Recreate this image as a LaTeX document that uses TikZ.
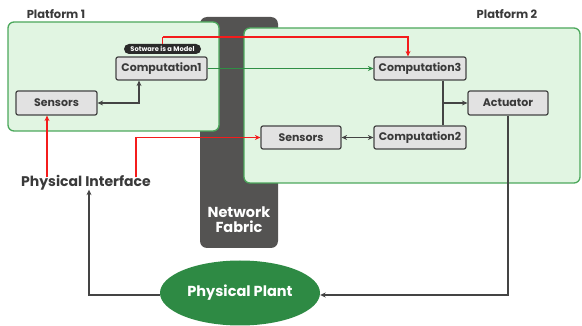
\documentclass[tikz,border=0pt]{standalone}
\usepackage{fontspec}
\setmainfont{Poppins}
\usetikzlibrary{arrows.meta,shapes.geometric}
\definecolor{txt}{HTML}{3A3A3A}
\definecolor{platfill}{HTML}{E1F5E2}
\definecolor{platborder}{HTML}{4CA85C}
\definecolor{boxfill}{HTML}{E2E2E2}
\definecolor{boxborder}{HTML}{444444}
\definecolor{fabric}{HTML}{545352}
\definecolor{redline}{HTML}{F41C1C}
\definecolor{greenline}{HTML}{2F8F45}
\definecolor{plantfill}{HTML}{2E8A44}
\definecolor{pill}{HTML}{2A2A2A}
\tikzset{
  platform/.style={draw=platborder, fill=platfill, line width=1.3pt, rounded corners=6pt},
  compbox/.style={draw=boxborder, fill=boxfill, line width=1.2pt, rounded corners=2pt,
    minimum height=23pt, inner sep=0pt, text=txt, font=\bfseries\fontsize{11}{13}\selectfont},
  title/.style={text=txt, font=\bfseries\fontsize{11.5}{13}\selectfont, inner sep=0pt},
  conn/.style={draw=boxborder, line width=1.5pt, -{Stealth[length=5.5pt,width=5pt]}},
  biconn/.style={draw=boxborder, line width=1.5pt, {Stealth[length=5.5pt,width=5pt]}-{Stealth[length=5.5pt,width=5pt]}},
  redconn/.style={draw=redline, line width=1.5pt, -{Stealth[length=5.5pt,width=5pt]}},
  greenconn/.style={draw=greenline, line width=1.5pt, -{Stealth[length=5.5pt,width=5pt]}},
}
\begin{document}
\begin{tikzpicture}[x=1pt,y=-1pt]
\useasboundingbox (0,0) rectangle (582,326);
% network fabric
\fill[fabric, rounded corners=7pt] (200,17) rectangle (278,248);
\node[text=white, font=\bfseries\fontsize{14.5}{15}\selectfont, align=center, inner sep=0pt] (nf) at (239,220) {Network\\Fabric};
% platforms
\draw[platform] (8,22) rectangle (219,131);
\draw[platform] (244,28) rectangle (580,183);
\node[title] (p1) at (56,14) {Platform 1};
\node[title] (p2) at (507,14) {Platform 2};
% boxes
\node[compbox, minimum width=91pt] (comp1) at (161.5,68.5) {Computation1};
\node[compbox, minimum width=92pt] (comp3) at (420,68.5) {Computation3};
\node[compbox, minimum width=92pt] (comp2) at (420,137.5) {Computation2};
\node[compbox, minimum width=81pt, minimum height=24pt] (sens1) at (56.5,103) {Sensors};
\node[compbox, minimum width=80pt] (sens2) at (301,137.5) {Sensors};
\node[compbox, minimum width=80pt, minimum height=24pt] (act) at (508,103) {Actuator};
\node[fill=pill, text=white, rounded corners=5pt, minimum width=77pt, minimum height=10pt, inner sep=0pt,
  font=\bfseries\fontsize{6.7}{7}\selectfont] (sw) at (162.5,49) {Sotware is a Model};
% plant and interface
\node[ellipse, fill=plantfill, minimum width=160pt, minimum height=65pt, inner sep=0pt, text=white,
  font=\bfseries\fontsize{14.5}{16}\selectfont] (plant) at (240,293) {Physical Plant};
\node[text=txt, font=\bfseries\fontsize{14}{16}\selectfont, inner sep=0pt] (pi) at (86,183) {Physical Interface};
% connectors
\draw[biconn] (sens1.east) -| ([xshift=-22.5pt]comp1.south);
\draw[redline, line width=1.5pt] (sw.north) -- ++(0,-7) coordinate (rc);
\draw[redconn] (rc) -| ([xshift=-12pt]comp3.north);
\draw[greenconn] (comp1.east) -- (comp3.west);
\draw[boxborder, line width=1.5pt] ([xshift=23pt]comp3.south) -- ([xshift=23pt]comp2.north);
\coordinate (j) at ([xshift=23pt]comp3.south |- act.west);
\draw[conn] (j) -- (act.west);
\draw[biconn] (sens2.east) -- (comp2.west);
\draw[conn] (act.south) |- ([yshift=-2pt]plant.east);
\draw[conn] ([yshift=-2pt]plant.west) -| ([xshift=3pt,yshift=1pt]pi.south);
\draw[redconn] ([xshift=-39pt,yshift=-2pt]pi.north) -- ([xshift=-9.5pt]sens1.south);
\draw[redconn] ([xshift=50pt,yshift=-2pt]pi.north) |- (sens2.west);
\end{tikzpicture}
\end{document}
